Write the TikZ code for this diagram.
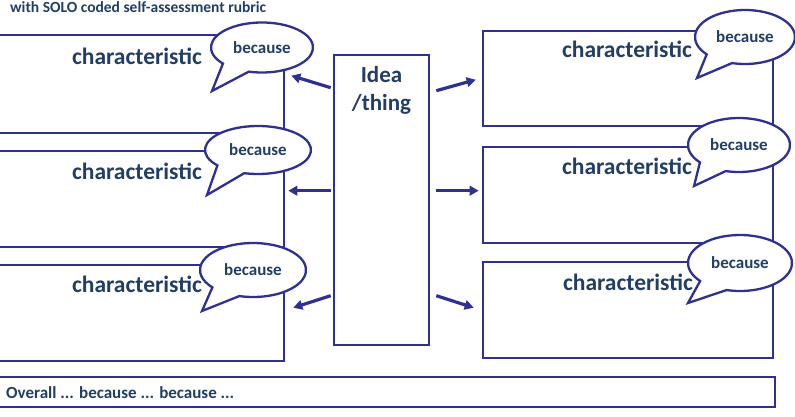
\documentclass[tikz,border=0pt]{standalone}
\usepackage{fontspec}
\setmainfont{Carlito}
\usetikzlibrary{arrows.meta,calc}
\definecolor{linecol}{RGB}{46,48,146}
\definecolor{textcol}{RGB}{34,62,100}
% speech bubble: name, centre, x radius, y radius, tip
\newcommand{\bubble}[5]{%
  \draw[bubble] (#2) ++(140:#3 and #4)
    arc[start angle=140,end angle=465,x radius=#3,y radius=#4] -- (#5) -- cycle;
  \node[because] (#1) at (#2) {because};}
\begin{document}
\begin{tikzpicture}[x=1pt,y=-1pt]
		\tikzstyle{box}=[rectangle,draw=linecol,line width=2.6pt,fill=white,minimum width=290pt,minimum height=96pt,inner sep=0pt]
		\tikzstyle{bubble}=[draw=linecol,line width=2.3pt,fill=white,line join=miter]
		\tikzstyle{because}=[text=textcol,font=\bfseries\fontsize{17}{19}\selectfont,inner sep=0pt]
		\tikzstyle{char}=[text=textcol,font=\bfseries\fontsize{23.5}{26}\selectfont,inner sep=0pt]
		\tikzstyle{arr}=[draw=linecol,line width=3.2pt,-{Triangle[length=9pt,width=9.5pt]}]
		\useasboundingbox (0,0) rectangle (795,417);
		\clip (0,0) rectangle (795,417);
		
		\node[text=textcol,font=\bfseries\fontsize{15.5}{17}\selectfont,anchor=base west,inner sep=0pt] (title) at (10,13) {with SOLO coded self-assessment rubric};
		
		\begin{scope}
		\node[box,minimum width=294pt,minimum height=98pt] (L1) at (137,84)  {};
		\node[box,minimum width=294pt] (L2) at (137,199) {};
		\node[box,minimum width=294pt] (L3) at (137,313) {};
		\node[box,minimum height=95pt] (R1) at (628,78.5) {};
		\node[box] (R2) at (628,195) {};
		\node[box] (R3) at (628,310) {};
		\node[box,minimum width=95pt,minimum height=290pt] (idea) at (381.5,200) {};
		\node[box,minimum width=785pt,minimum height=30pt] (overall) at (382.5,392) {};
		\end{scope}
		
		\node[char] (c-L1) at (137,56)  {characteristic};
		\node[char] (c-L2) at (137,171) {characteristic};
		\node[char] (c-L3) at (137,284) {characteristic};
		\node[char] (c-R1) at (627,49)  {characteristic};
		\node[char] (c-R2) at (627,166) {characteristic};
		\node[char] (c-R3) at (628,282) {characteristic};
		\node[char,align=center,font=\bfseries\fontsize{23}{28}\selectfont,anchor=north] (idea-txt) at ($(idea.north)+(0,12)$) {Idea\\/thing};
		\node[text=textcol,font=\bfseries\fontsize{17}{19}\selectfont,anchor=west,inner sep=0pt] (overall-txt) at (6,393) {Overall ... because ... because ...};
		
		\bubble{b-L1}{262,47.5}{51}{25}{212,91}
		\bubble{b-L2}{258,150}{53}{24}{207,195}
		\bubble{b-L3}{253,270}{53}{27}{202,311}
		\bubble{b-R1}{745,37}{50}{27}{697,78}
		\bubble{b-R2}{739,145}{51}{27}{694,186}
		\bubble{b-R3}{740,263}{52}{28}{688,303}
		
		\path
		($(idea.north west)+(-2,34)$)  edge[arr] ($(L1.north east)+(6,42)$)
		($(idea.north west)+(-2,137)$) edge[arr] ($(L2.north east)+(3,41)$)
		($(idea.north west)+(-2,242)$) edge[arr] ($(L3.north east)+(8,44)$)
		($(idea.north east)+(6,37)$)   edge[arr] ($(R1.north west)+(-6,50)$)
		($(idea.north east)+(6,137)$)  edge[arr] ($(R2.north west)+(-3,45)$)
		($(idea.north east)+(6,242)$)  edge[arr] ($(R3.north west)+(-8,47)$)
		;
		
		\end{tikzpicture}
\end{document}
